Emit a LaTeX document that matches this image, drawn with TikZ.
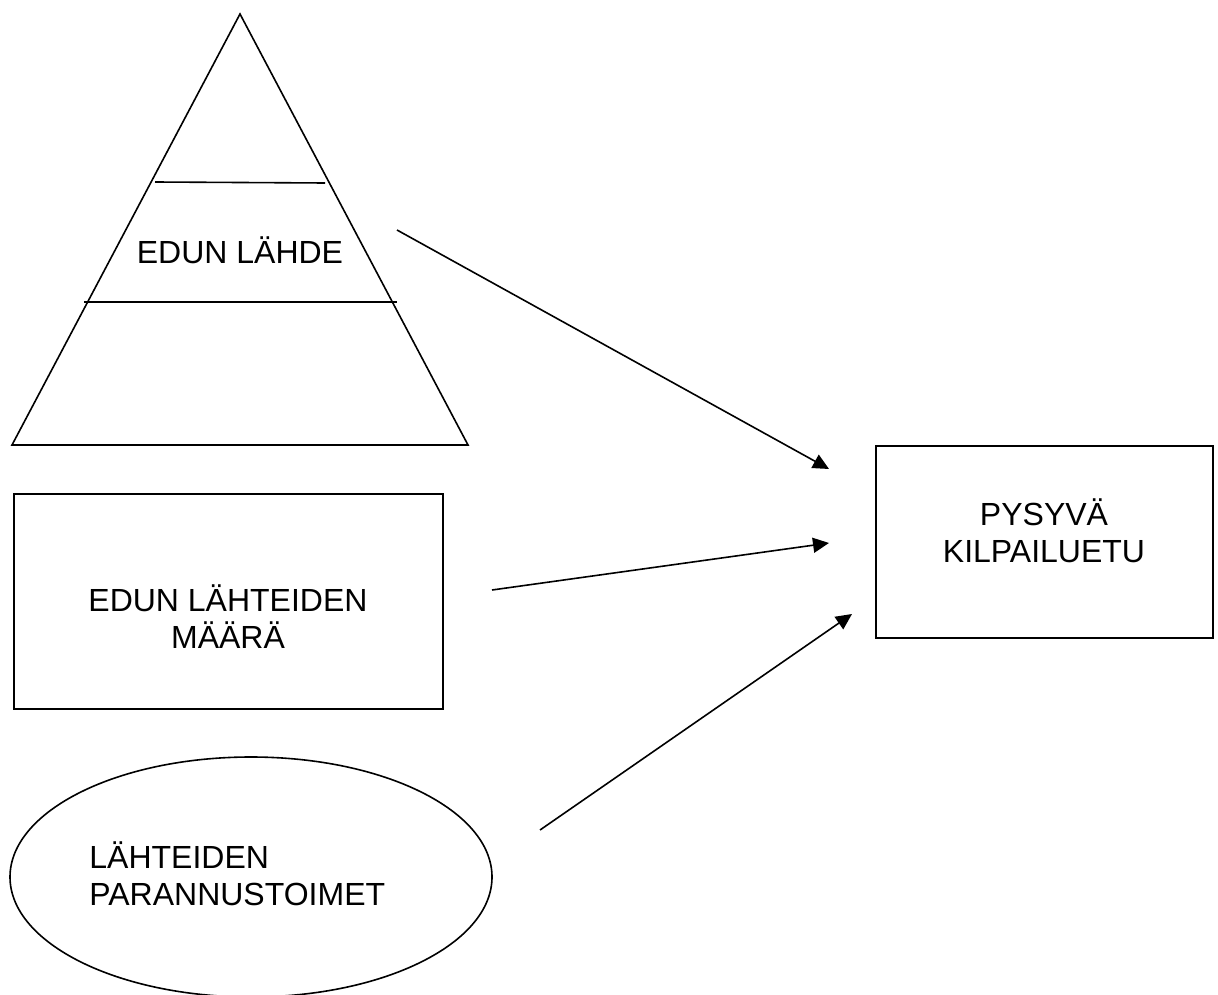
\documentclass[tikz,border=0pt]{standalone}
\usepackage{fontspec}
\setmainfont{Liberation Sans}
\usetikzlibrary{arrows.meta}
\begin{document}
\begin{tikzpicture}[x=0.5pt,y=-0.5pt,
  shape line/.style={line width=0.8pt},
  lbl/.style={font=\fontsize{16}{18.5}\selectfont, align=center, inner sep=0pt},
  arr/.style={line width=0.8pt, -{Triangle[length=8pt,width=7.5pt]}}]
\useasboundingbox (0,0) rectangle (1218,994);
% pyramid
\coordinate (apex) at (240,14);
\coordinate (bl) at (12,445);
\coordinate (br) at (468,445);
\draw[shape line] (apex) -- (br) -- (bl) -- cycle;
\draw[shape line] (155,182) -- (325,183);
\draw[shape line] (84,302) -- (397,302);
\node[lbl] (lahde) at (240,250) {EDUN LÄHDE};
% box of count
\draw[shape line] (14,494) rectangle (443,709);
\node[lbl] (maara) at (228,617) {EDUN LÄHTEIDEN\\MÄÄRÄ};
% ellipse
\draw[shape line] (251,877) ellipse [x radius=241, y radius=120];
\node[lbl, align=left, anchor=west] (parannus) at (89,874) {LÄHTEIDEN\\PARANNUSTOIMET};
% target box
\draw[shape line] (876,446) rectangle (1213,638);
\node[lbl] (etu) at (1044,531) {PYSYVÄ\\KILPAILUETU};
% arrows
\coordinate (a1s) at (397,230);
\coordinate (a1e) at (829,469);
\coordinate (a2s) at (492,590);
\coordinate (a2e) at (829,543);
\coordinate (a3s) at (540,830);
\coordinate (a3e) at (852,614);
\draw[arr] (a1s) -- (a1e);
\draw[arr] (a2s) -- (a2e);
\draw[arr] (a3s) -- (a3e);
\end{tikzpicture}
\end{document}
